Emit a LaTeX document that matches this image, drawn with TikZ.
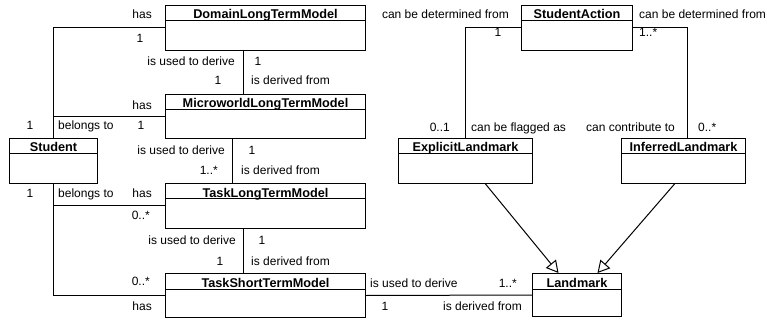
\documentclass[tikz,border=0pt]{standalone}
\usepackage{fontspec}
\setmainfont{Liberation Sans}
\usetikzlibrary{calc,arrows.meta}
\newcommand{\umlclass}[6]{%
  \node[classbox, anchor=north west, minimum width={#4pt-#2pt}, minimum height={#5pt-#3pt}] (#1) at (#2,#3) {};
  \draw[conn] ($(#1.north west)+(0,16)$) -- ($(#1.north east)+(0,16)$);
  \node[ctitle] (#1-t) at ($(#1.north)+(0,14)$) {#6};
}
\begin{document}
\begin{tikzpicture}[x=1pt,y=-1pt,
  classbox/.style={draw=black, line width=1pt, inner sep=0pt, fill=white},
  conn/.style={draw=black, line width=1pt},
  ctitle/.style={font=\fontsize{12.7}{14}\selectfont\bfseries, inner sep=0pt, anchor=base},
  lab/.style={font=\fontsize{12}{14}\selectfont, inner sep=0pt},
  gen/.style={conn, -{Triangle[open, length=12pt, width=13pt]}}
]
\useasboundingbox[fill=white] (0,0) rectangle (767,320);

% classes
\umlclass{Domain}{165}{5}{365}{50}{DomainLongTermModel}
\umlclass{Micro}{165}{94}{365}{138}{MicroworldLongTermModel}
\umlclass{Student}{9}{138}{97}{183}{Student}
\umlclass{TLTM}{165}{183}{365}{228}{TaskLongTermModel}
\umlclass{TSTM}{165}{273}{365}{317}{TaskShortTermModel}
\umlclass{Landmark}{532}{273}{621}{316}{Landmark}
\umlclass{SA}{521}{5}{632}{50}{StudentAction}
\umlclass{Explicit}{398}{138}{532}{183}{ExplicitLandmark}
\umlclass{Inferred}{621}{138}{745}{183}{InferredLandmark}

% connectors
\draw[conn] (Student.north) |- (Domain.west);
\draw[conn] (Student.north) |- (Micro.west);
\draw[conn] (Student.south) |- (TLTM.west);
\draw[conn] (Student.south) |- (TSTM.west);
\draw[conn] ([xshift=-22pt]Domain.south) -- ([xshift=-22pt]Micro.north);
\draw[conn] ([xshift=-33pt]Micro.south) -- ([xshift=-33pt]TLTM.north);
\draw[conn] ([xshift=-22pt]TLTM.south) -- ([xshift=-22pt]TSTM.north);
\draw[conn] (TSTM.east) -- (Landmark.west);
\draw[conn] (SA.west) -| (Explicit.north);
\draw[conn] (SA.east) -| ([xshift=4pt]Inferred.north);
\draw[gen] ([xshift=20pt]Explicit.south) -- ([xshift=-18.5pt]Landmark.north);
\draw[gen] ([xshift=-9pt]Inferred.south) -- ([xshift=20.5pt]Landmark.north);

% labels: Student - Domain
\node[lab, anchor=base east] (l1) at (152,19) {has};
\node[lab, anchor=base] (l2) at (140,43) {1};
% Domain - Micro
\node[lab, anchor=base east] (l3) at (235,66) {is used to derive};
\node[lab, anchor=base] (l4) at (258,66) {1};
\node[lab, anchor=base] (l5) at (218,85) {1};
\node[lab, anchor=base west] (l6) at (251,85) {is derived from};
% Student - Micro
\node[lab, anchor=base east] (l7) at (152,110) {has};
\node[lab, anchor=base] (l8) at (30,130) {1};
\node[lab, anchor=base west] (l9) at (58,130) {belongs to};
\node[lab, anchor=base] (l10) at (141,130) {1};
% Micro - TLTM
\node[lab, anchor=base east] (l11) at (225,155) {is used to derive};
\node[lab, anchor=base] (l12) at (252,155) {1};
\node[lab, anchor=base east] (l13) at (218,175) {1..*};
\node[lab, anchor=base west] (l14) at (241,175) {is derived from};
% Student - TLTM
\node[lab, anchor=base] (l15) at (30,197) {1};
\node[lab, anchor=base west] (l16) at (58,197) {belongs to};
\node[lab, anchor=base east] (l17) at (152,197) {has};
\node[lab, anchor=base east] (l18) at (150,219) {0..*};
% TLTM - TSTM
\node[lab, anchor=base east] (l19) at (236,244) {is used to derive};
\node[lab, anchor=base] (l20) at (262,244) {1};
\node[lab, anchor=base] (l21) at (220,265) {1};
\node[lab, anchor=base west] (l22) at (251,265) {is derived from};
% Student - TSTM
\node[lab, anchor=base east] (l23) at (150,285) {0..*};
\node[lab, anchor=base east] (l24) at (152,310) {has};
% TSTM - Landmark
\node[lab, anchor=base west] (l25) at (370,287) {is used to derive};
\node[lab, anchor=base east] (l26) at (517,287) {1..*};
\node[lab, anchor=base] (l27) at (385,310) {1};
\node[lab, anchor=base east] (l28) at (522,310) {is derived from};
% StudentAction
\node[lab, anchor=base east] (l29) at (509,19) {can be determined from};
\node[lab, anchor=base west] (l30) at (639,19) {can be determined from};
\node[lab, anchor=base] (l31) at (498,37) {1};
\node[lab, anchor=base west] (l32) at (639,37) {1..*};
\node[lab, anchor=base east] (l33) at (450,132) {0..1};
\node[lab, anchor=base west] (l34) at (471,132) {can be flagged as};
\node[lab, anchor=base east] (l35) at (675,132) {can contribute to};
\node[lab, anchor=base west] (l36) at (698,132) {0..*};
\end{tikzpicture}
\end{document}
